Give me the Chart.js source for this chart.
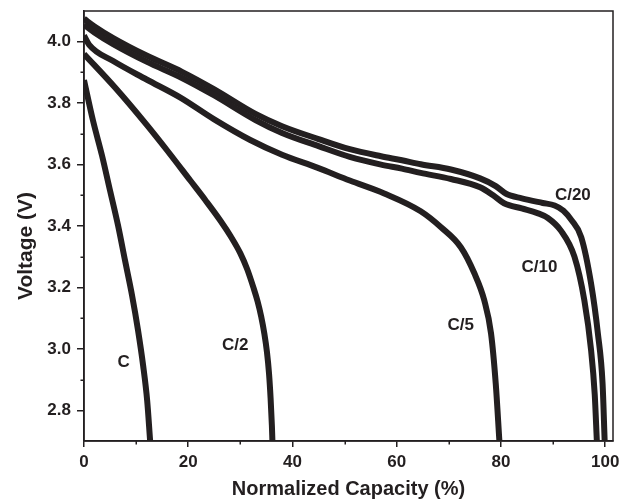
<!DOCTYPE html>
<html><head><meta charset="utf-8">
<script src="https://cdn.jsdelivr.net/npm/chart.js@4/dist/chart.umd.min.js"></script>
<style>html,body{margin:0;padding:0;background:#fff;overflow:hidden;}</style>
</head><body>
<canvas id="c" width="619" height="501"></canvas>
<script>
// ---- data ----
const capC   = [0, 1.73, 3.46, 5.0, 6.54, 7.88, 9.23, 10.38, 11.35, 12.12, 12.69];
const voltC  = [3.875, 3.743, 3.629, 3.515, 3.401, 3.287, 3.173, 3.059, 2.945, 2.832, 2.70];

const capC2  = [0, 6, 12, 16, 20.4, 23.3, 26.15, 28.2, 30, 31.3, 32.5, 33.3, 34.0, 34.6, 35.1, 35.5, 35.8, 36.05, 36.15];
const voltC2 = [3.96, 3.85, 3.73, 3.645, 3.548, 3.484, 3.418, 3.365, 3.311, 3.26, 3.20, 3.155, 3.105, 3.05, 2.99, 2.92, 2.84, 2.75, 2.70];

const capC5  = [0, 1, 5.6, 12, 18.5, 24.9, 31.9, 38, 44.75, 51, 57.6, 64.6, 68.5, 72.3, 74.9, 76.8, 78.1, 79.0, 79.7];
const voltC5 = [4.02, 3.99, 3.937, 3.877, 3.818, 3.748, 3.68, 3.632, 3.59, 3.548, 3.506, 3.448, 3.396, 3.331, 3.246, 3.158, 3.05, 2.887, 2.70];

const capC10  = [0, 2, 5.6, 12, 18.8, 25, 32.9, 38, 45, 51, 57, 61, 64.6, 70.4, 76, 78.5, 80.6, 84, 87, 89, 91.5, 94.1, 96.0, 97.3, 98.0, 98.4];
const voltC10 = [4.055, 4.03, 3.992, 3.935, 3.882, 3.825, 3.745, 3.703, 3.66, 3.625, 3.60, 3.587, 3.573, 3.553, 3.526, 3.50, 3.474, 3.457, 3.442, 3.426, 3.385, 3.30, 3.158, 2.995, 2.85, 2.70];

const capC20  = [0, 2, 5.6, 12, 18.8, 25, 32.9, 38, 45, 51, 57, 61, 64.6, 70.4, 76, 79, 81, 84, 88, 90.3, 92, 93.5, 95.4, 97.3, 98.6, 99.5, 99.9];
const voltC20 = [4.075, 4.05, 4.012, 3.955, 3.902, 3.845, 3.765, 3.725, 3.683, 3.65, 3.627, 3.614, 3.601, 3.584, 3.555, 3.53, 3.505, 3.49, 3.475, 3.467, 3.45, 3.42, 3.364, 3.212, 3.05, 2.887, 2.70];

const seriesNames = ['C', 'C/2', 'C/5', 'C/10', 'C/20'];
const xMajorTicks = [0, 20, 40, 60, 80, 100];
const xMinorTicks = [10, 30, 50, 70, 90];
const yMajorTicks = [2.8, 3.0, 3.2, 3.4, 3.6, 3.8, 4.0];
const yMinorTicks = [2.9, 3.1, 3.3, 3.5, 3.7, 3.9];

const labelText = ['C', 'C/2', 'C/5', 'C/10', 'C/20'];
const labelCap  = [7.6, 29.0, 72.3, 87.4, 93.8];
const labelVolt = [2.957, 3.011, 3.076, 3.266, 3.499];

const xTitle = 'Normalized Capacity (%)';
const yTitle = 'Voltage (V)';

// ---- styling ----
const INK = '#231f20';
const FONT = '"Liberation Sans", Arial, sans-serif';

const pairs = (xs, ys) => xs.map((x, i) => ({x: x, y: ys[i]}));
const allCaps = [capC, capC2, capC5, capC10, capC20];
const allVolts = [voltC, voltC2, voltC5, voltC10, voltC20];

const datasets = seriesNames.map((n, i) => ({
  label: n,
  data: pairs(allCaps[i], allVolts[i]),
  borderColor: INK,
  borderWidth: 6,
  pointRadius: 0,
  showLine: true,
  fill: false,
  cubicInterpolationMode: 'monotone',
  borderCapStyle: 'butt',
  borderJoinStyle: 'round',
  clip: 0
}));

const decor = {
  id: 'decor',
  afterDraw(chart) {
    const {ctx, chartArea: a, scales: {x, y}} = chart;
    ctx.save();
    ctx.strokeStyle = INK;
    ctx.lineWidth = 1.5;
    ctx.strokeRect(a.left, a.top, a.right - a.left, a.bottom - a.top);
    ctx.beginPath();
    xMinorTicks.forEach(v => {
      const px = Math.round(x.getPixelForValue(v)) + 0.25;
      ctx.moveTo(px, a.bottom); ctx.lineTo(px, a.bottom + 3.5);
    });
    yMinorTicks.forEach(v => {
      const py = Math.round(y.getPixelForValue(v)) + 0.25;
      ctx.moveTo(a.left, py); ctx.lineTo(a.left - 3.5, py);
    });
    ctx.stroke();
    ctx.fillStyle = INK;
    ctx.font = 'bold 17px ' + FONT;
    ctx.textAlign = 'center';
    ctx.textBaseline = 'middle';
    labelText.forEach((t, i) => {
      ctx.fillText(t, x.getPixelForValue(labelCap[i]), y.getPixelForValue(labelVolt[i]));
    });
    ctx.translate(26, 246);
    ctx.rotate(-Math.PI / 2);
    ctx.font = 'bold 21px ' + FONT;
    ctx.fillText(yTitle, 0, 0);
    ctx.restore();
  }
};

new Chart(document.getElementById('c'), {
  type: 'scatter',
  data: {datasets},
  options: {
    responsive: false,
    devicePixelRatio: 1,
    animation: false,
    layout: {padding: {top: 11, right: 6, bottom: 0, left: 0}},
    plugins: {legend: {display: false}, tooltip: {enabled: false}},
    scales: {
      x: {
        type: 'linear', position: 'bottom', min: 0, max: 101.5,
        afterBuildTicks: s => { s.ticks = xMajorTicks.map(v => ({value: v})); },
        afterFit: s => { s.height = 60; s.paddingLeft = 0; s.paddingRight = 0; },
        ticks: {color: INK, font: {family: FONT, size: 17, weight: 'bold'}, padding: 5, maxRotation: 0, autoSkip: false,
                callback: v => String(v)},
        grid: {drawOnChartArea: false, drawTicks: true, tickLength: 6, color: INK, lineWidth: 1.5},
        border: {color: INK, width: 1.5},
        title: {display: true, text: xTitle, color: INK, font: {family: FONT, size: 20, weight: 'bold'}, padding: {top: 0, bottom: 0}}
      },
      y: {
        type: 'linear', position: 'left', min: 2.7, max: 4.1,
        afterBuildTicks: s => { s.ticks = yMajorTicks.map(v => ({value: v})); },
        afterFit: s => { s.width = 84; s.paddingTop = 0; s.paddingBottom = 0; },
        ticks: {color: INK, font: {family: FONT, size: 17, weight: 'bold'}, padding: 6, autoSkip: false,
                callback: v => Number(v).toFixed(1)},
        grid: {drawOnChartArea: false, drawTicks: true, tickLength: 7, color: INK, lineWidth: 1.5},
        border: {color: INK, width: 1.5},
        title: {display: false}
      }
    }
  },
  plugins: [decor]
});
</script>
</body></html>
